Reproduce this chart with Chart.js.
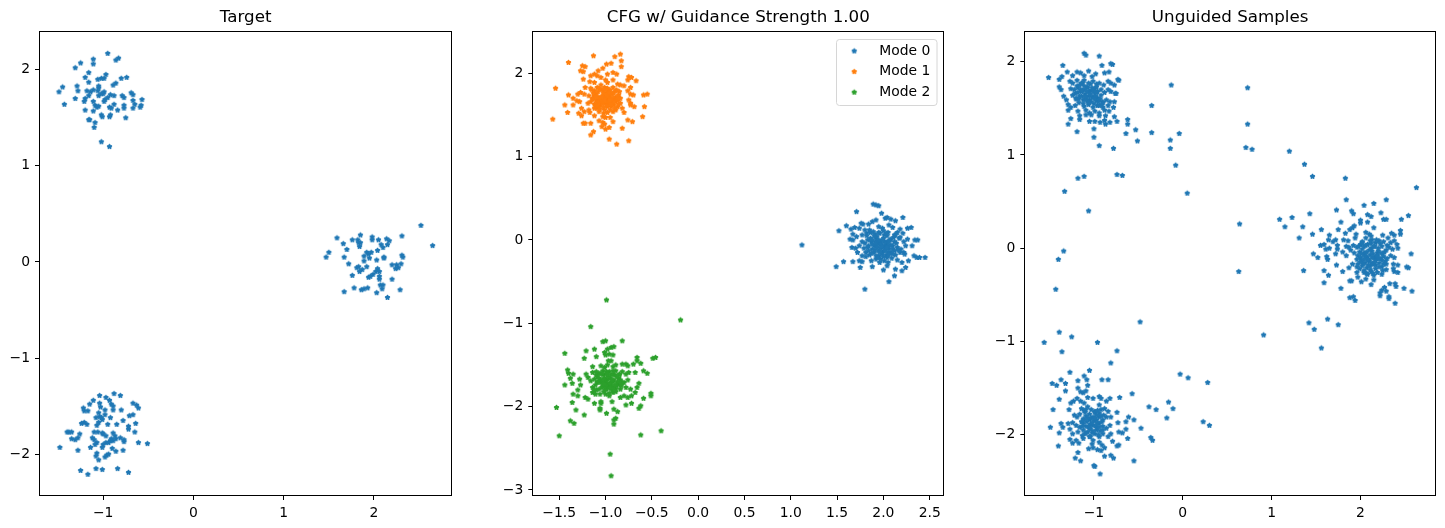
<!DOCTYPE html>
<html><head><meta charset="utf-8">
<script src="https://cdn.jsdelivr.net/npm/chart.js@4/dist/chart.umd.min.js"></script>
<style>
html,body{margin:0;padding:0;background:#fff;width:1445px;height:528px;overflow:hidden}
.p{position:absolute;top:0;height:528px}
</style></head><body>
<div class="p" style="left:0;width:480px"><canvas id="c1"></canvas></div>
<div class="p" style="left:480px;width:480px"><canvas id="c2"></canvas></div>
<div class="p" style="left:960px;width:485px"><canvas id="c3"></canvas></div>
<script>
// ---------------- DATA ----------------
const titles = ['Target', 'CFG w/ Guidance Strength 1.00', 'Unguided Samples'];
const legendLabels = ['Mode 0', 'Mode 1', 'Mode 2'];

// axis ranges & ticks
const target_xRange = [-1.70, 2.857], target_yRange = [-2.425, 2.392];
const cfg_xRange = [-1.78, 2.647], cfg_yRange = [-3.06, 2.495];
const ung_xRange = [-1.772, 2.839], ung_yRange = [-2.646, 2.318];
const target_xTicks = [-1, 0, 1, 2], target_yTicks = [-2, -1, 0, 1, 2];
const cfg_xTicks = [-1.5, -1.0, -0.5, 0.0, 0.5, 1.0, 1.5, 2.0, 2.5], cfg_yTicks = [-3, -2, -1, 0, 1, 2];
const ung_xTicks = [-1, 0, 1, 2], ung_yTicks = [-2, -1, 0, 1, 2];

// Panel 1: Target
const targetTopLeft = [[-0.95,2.17],[-0.83,2.12],[-0.86,2.10],[-1.11,2.11],[-1.11,2.06],[-1.25,2.07],[-1.31,2.02],[-1.16,1.97],[-0.97,1.95],[-1.20,1.92],[-1.06,1.90],[-1.02,1.91],[-0.99,1.91],[-0.74,1.92],[-0.80,1.91],[-1.16,1.87],[-0.86,1.86],[-0.89,1.84],[-1.29,1.83],[-1.45,1.82],[-1.05,1.83],[-1.05,1.81],[-1.49,1.77],[-1.28,1.78],[-1.18,1.78],[-1.14,1.77],[-1.11,1.79],[-0.99,1.77],[-1.00,1.75],[-1.05,1.73],[-1.06,1.78],[-0.92,1.74],[-0.88,1.73],[-0.79,1.73],[-0.77,1.71],[-0.69,1.76],[-0.67,1.74],[-0.67,1.68],[-0.57,1.69],[-1.20,1.70],[-1.16,1.73],[-1.31,1.70],[-1.02,1.75],[-1.21,1.67],[-1.11,1.67],[-0.99,1.67],[-0.98,1.69],[-0.95,1.71],[-1.43,1.64],[-1.09,1.63],[-1.07,1.61],[-1.05,1.62],[-0.93,1.61],[-0.91,1.60],[-0.88,1.64],[-0.77,1.63],[-0.77,1.60],[-0.84,1.58],[-0.65,1.64],[-0.67,1.60],[-0.59,1.61],[-0.58,1.63],[-1.20,1.58],[-1.11,1.57],[-1.02,1.53],[-1.01,1.51],[-0.92,1.53],[-0.93,1.51],[-0.75,1.50],[-1.16,1.48],[-1.15,1.48],[-1.09,1.45],[-1.10,1.40],[-1.02,1.25],[-0.93,1.20]];
const targetBottomLeft = [[-0.88,-1.37],[-0.81,-1.39],[-1.04,-1.39],[-0.97,-1.41],[-1.11,-1.44],[-0.93,-1.44],[-0.91,-1.48],[-1.15,-1.48],[-1.04,-1.47],[-1.03,-1.51],[-0.89,-1.50],[-0.67,-1.47],[-0.63,-1.49],[-0.61,-1.52],[-1.22,-1.52],[-1.21,-1.55],[-1.17,-1.55],[-0.98,-1.54],[-0.80,-1.54],[-0.89,-1.54],[-1.05,-1.57],[-1.04,-1.61],[-0.98,-1.59],[-0.67,-1.59],[-0.71,-1.60],[-1.08,-1.62],[-1.02,-1.62],[-1.01,-1.64],[-0.92,-1.62],[-0.78,-1.65],[-1.21,-1.67],[-1.18,-1.69],[-1.24,-1.68],[-0.64,-1.68],[-1.05,-1.67],[-1.07,-1.70],[-0.95,-1.69],[-0.85,-1.69],[-0.72,-1.71],[-0.72,-1.74],[-1.40,-1.77],[-1.38,-1.77],[-1.35,-1.77],[-1.10,-1.77],[-1.06,-1.77],[-1.01,-1.78],[-0.65,-1.77],[-1.26,-1.79],[-1.28,-1.83],[-1.35,-1.84],[-1.31,-1.85],[-1.12,-1.83],[-1.10,-1.85],[-1.00,-1.79],[-0.97,-1.81],[-0.89,-1.78],[-0.87,-1.81],[-0.86,-1.84],[-0.92,-1.86],[-0.94,-1.88],[-0.81,-1.83],[-0.77,-1.85],[-0.77,-1.87],[-1.07,-1.88],[-1.09,-1.90],[-0.97,-1.88],[-1.00,-1.90],[-0.89,-1.86],[-0.91,-1.84],[-0.61,-1.88],[-0.51,-1.89],[-1.48,-1.93],[-1.14,-1.93],[-1.01,-1.93],[-0.90,-1.94],[-1.28,-1.96],[-0.86,-1.97],[-0.78,-1.96],[-1.07,-1.99],[-1.08,-2.02],[-0.94,-2.00],[-0.96,-2.01],[-0.98,-2.03],[-1.05,-2.06],[-1.08,-2.15],[-1.01,-2.16],[-1.25,-2.17],[-0.84,-2.15],[-0.72,-2.19],[-1.17,-2.21]];
const targetRight = [[2.52,0.38],[2.65,0.17],[1.59,0.25],[1.66,0.19],[1.70,0.13],[1.50,0.10],[1.47,0.05],[1.67,0.05],[1.76,0.23],[1.82,0.23],[1.85,0.28],[1.83,0.20],[1.98,0.26],[1.98,0.23],[2.05,0.23],[2.14,0.24],[2.17,0.22],[2.31,0.27],[1.85,0.20],[1.84,0.16],[2.08,0.18],[2.10,0.15],[2.15,0.18],[2.04,0.12],[1.92,0.10],[1.94,0.08],[1.97,0.10],[1.89,0.06],[1.95,0.04],[2.11,0.05],[2.11,0.04],[2.31,0.07],[2.32,0.05],[1.89,0.01],[1.72,-0.02],[2.03,0.02],[2.20,-0.03],[2.25,-0.03],[2.24,-0.07],[2.27,-0.06],[2.30,-0.02],[1.81,-0.06],[1.83,-0.05],[1.92,-0.05],[2.04,-0.07],[1.87,-0.08],[1.84,-0.10],[2.02,-0.10],[2.06,-0.10],[1.99,-0.13],[1.76,-0.14],[1.94,-0.16],[1.96,-0.15],[2.06,-0.15],[2.06,-0.18],[2.20,-0.18],[2.07,-0.24],[2.10,-0.24],[2.09,-0.28],[1.78,-0.27],[1.86,-0.29],[1.89,-0.28],[1.93,-0.27],[1.67,-0.31],[2.03,-0.32],[2.29,-0.29],[2.15,-0.37]];

// Panel 2: CFG modes (outer points + dense cores)
const cfgMode0 = [[1.12,-0.06],[1.89,0.43],[1.92,0.42],[1.95,0.41],[1.71,0.34],[1.98,0.32],[2.21,0.27],[1.52,0.11],[1.60,0.17],[1.65,0.13],[1.69,0.15],[1.76,0.20],[1.78,0.19],[1.84,0.19],[1.88,0.22],[1.92,0.24],[2.02,0.26],[2.04,0.27],[2.08,0.25],[2.13,0.23],[1.74,0.14],[1.80,0.12],[1.95,0.16],[1.99,0.14],[2.06,0.18],[2.10,0.15],[2.18,0.13],[2.26,0.14],[2.30,0.15],[1.67,0.07],[1.71,0.04],[1.64,0.01],[1.67,0.00],[1.77,0.06],[1.82,0.08],[1.86,0.09],[1.91,0.07],[1.95,0.09],[2.01,0.06],[2.05,0.09],[2.12,0.06],[2.15,0.09],[2.21,0.08],[1.77,-0.02],[1.83,0.00],[1.87,-0.02],[1.92,0.02],[1.96,-0.02],[2.00,0.02],[2.04,-0.02],[2.08,0.01],[2.12,-0.02],[2.17,0.02],[2.22,-0.02],[2.26,0.01],[2.34,0.00],[2.37,0.00],[1.66,-0.09],[1.70,-0.10],[1.74,-0.07],[1.79,-0.10],[1.84,-0.07],[1.88,-0.11],[1.92,-0.07],[1.97,-0.10],[2.02,-0.07],[2.06,-0.11],[2.10,-0.07],[2.15,-0.09],[2.19,-0.11],[2.24,-0.07],[2.31,-0.07],[1.72,-0.15],[1.77,-0.19],[1.81,-0.15],[1.85,-0.18],[1.90,-0.15],[1.95,-0.19],[1.99,-0.15],[2.03,-0.18],[2.08,-0.15],[2.13,-0.18],[2.18,-0.15],[2.22,-0.15],[2.23,-0.17],[2.33,-0.19],[2.36,-0.21],[2.39,-0.21],[2.45,-0.21],[1.57,-0.26],[1.67,-0.26],[1.74,-0.25],[1.77,-0.26],[1.87,-0.25],[1.92,-0.23],[1.96,-0.27],[2.01,-0.25],[2.05,-0.27],[2.15,-0.24],[2.20,-0.27],[2.27,-0.25],[1.49,-0.32],[1.75,-0.33],[1.88,-0.32],[2.00,-0.36],[2.04,-0.31],[2.13,-0.35],[2.20,-0.37],[2.24,-0.33],[2.12,-0.43],[2.06,-0.50],[1.80,-0.59],[1.92,-0.02],[1.95,-0.05],[1.99,-0.07],[2.03,-0.05],[2.06,-0.07],[2.01,-0.13],[1.95,-0.13],[1.90,-0.07],[2.10,-0.11],[2.04,-0.21],[1.97,-0.23],[1.92,-0.19]];
const cfgMode0Core = [[1.80,-0.04],[1.82,0.05],[1.84,-0.13],[1.86,0.02],[1.88,-0.05],[1.89,0.10],[1.91,-0.12],[1.93,0.04],[1.94,-0.21],[1.96,0.08],[1.97,-0.04],[1.98,-0.17],[2.00,0.11],[2.01,-0.02],[2.02,-0.10],[2.04,0.05],[2.05,-0.15],[2.07,0.00],[2.08,-0.06],[2.09,-0.22],[2.11,0.03],[2.12,-0.13],[2.14,-0.04],[1.83,-0.09],[1.87,-0.16],[1.90,0.05],[1.93,-0.09],[1.96,-0.14],[1.99,0.00],[2.03,0.08],[2.06,-0.02],[2.10,-0.17],[2.13,0.06],[1.85,0.12],[1.92,-0.03],[1.98,-0.08],[2.02,-0.12],[2.06,-0.18],[1.95,0.00],[2.00,-0.20],[1.88,0.00],[2.04,-0.09],[2.16,-0.12],[1.81,-0.20],[2.18,0.03]];
const cfgMode1 = [[-0.84,2.23],[-0.90,2.20],[-1.13,2.21],[-1.40,2.13],[-1.25,2.09],[-1.22,2.08],[-0.94,2.12],[-0.99,2.11],[-0.83,2.15],[-0.83,2.08],[-1.03,2.06],[-1.27,2.03],[-1.24,2.02],[-1.08,2.03],[-0.92,2.01],[-1.12,1.99],[-1.16,1.97],[-0.98,1.99],[-0.88,1.99],[-1.24,1.93],[-1.09,1.97],[-1.05,1.95],[-0.75,1.96],[-0.72,1.95],[-0.76,1.92],[-0.67,1.91],[-1.17,1.90],[-1.12,1.89],[-1.00,1.92],[-0.98,1.89],[-0.92,1.92],[-0.87,1.87],[-0.84,1.86],[-0.80,1.85],[-1.22,1.83],[-1.16,1.82],[-1.12,1.79],[-1.09,1.83],[-1.05,1.81],[-1.01,1.83],[-0.96,1.79],[-0.92,1.83],[-0.89,1.79],[-0.76,1.79],[-0.73,1.83],[-1.27,1.77],[-1.30,1.75],[-1.54,1.82],[-1.40,1.74],[-1.35,1.70],[-1.23,1.75],[-1.18,1.73],[-1.14,1.70],[-1.10,1.75],[-1.07,1.71],[-1.03,1.70],[-1.00,1.73],[-0.96,1.68],[-0.94,1.75],[-0.91,1.70],[-0.86,1.74],[-0.84,1.70],[-0.73,1.75],[-0.70,1.74],[-0.75,1.68],[-0.59,1.74],[-0.55,1.75],[-1.28,1.66],[-1.31,1.67],[-1.19,1.64],[-1.16,1.66],[-1.12,1.63],[-1.09,1.66],[-1.05,1.62],[-1.01,1.64],[-0.98,1.60],[-0.94,1.66],[-0.91,1.62],[-0.87,1.60],[-0.84,1.64],[-0.73,1.64],[-0.73,1.62],[-0.69,1.60],[-1.44,1.62],[-1.35,1.62],[-0.58,1.60],[-1.41,1.53],[-1.26,1.58],[-1.23,1.54],[-1.18,1.56],[-1.17,1.53],[-1.09,1.58],[-1.07,1.54],[-1.02,1.52],[-0.98,1.53],[-0.92,1.54],[-0.89,1.56],[-0.82,1.58],[-0.80,1.53],[-1.29,1.52],[-1.26,1.49],[-1.12,1.49],[-1.03,1.48],[-1.00,1.47],[-1.57,1.45],[-0.60,1.48],[-1.24,1.40],[-1.22,1.40],[-1.16,1.40],[-1.07,1.43],[-1.03,1.41],[-1.01,1.39],[-0.95,1.47],[-0.92,1.42],[-0.76,1.44],[-0.71,1.42],[-1.04,1.36],[-1.00,1.33],[-0.96,1.35],[-0.82,1.34],[-1.13,1.30],[-1.16,1.26],[-0.96,1.21],[-0.88,1.15],[-0.75,1.19],[-1.07,1.66],[-1.03,1.73],[-1.00,1.66],[-0.98,1.70],[-0.94,1.60],[-1.07,1.60],[-1.03,1.79],[-0.98,1.77],[-1.01,1.56],[-1.10,1.68],[-0.96,1.64],[-0.92,1.68],[-0.89,1.66],[-1.12,1.73],[-0.87,1.68]];
const cfgMode1Core = [[-1.13,1.76],[-1.11,1.62],[-1.08,1.78],[-1.06,1.69],[-1.04,1.64],[-1.02,1.76],[-1.00,1.69],[-0.99,1.62],[-0.97,1.73],[-0.95,1.80],[-0.93,1.65],[-0.91,1.77],[-0.89,1.71],[-0.86,1.63],[-0.85,1.78],[-1.14,1.69],[-1.10,1.72],[-1.05,1.86],[-1.01,1.70],[-0.98,1.82],[-0.96,1.71],[-0.94,1.63],[-0.90,1.58],[-0.87,1.72],[-1.12,1.58],[-1.08,1.65],[-1.03,1.67],[-0.99,1.74],[-0.95,1.56],[-0.92,1.75],[-1.07,1.82],[-1.02,1.59],[-0.97,1.66],[-0.93,1.70],[-0.88,1.80],[-1.15,1.80],[-1.09,1.61],[-1.04,1.72],[-1.00,1.80],[-0.96,1.76],[-0.91,1.66],[-0.86,1.69],[-1.06,1.57],[-1.01,1.67],[-0.95,1.68]];
const cfgMode2 = [[-0.99,-0.72],[-0.19,-0.96],[-1.16,-1.04],[-0.82,-1.21],[-1.03,-1.22],[-1.00,-1.21],[-1.44,-1.36],[-1.21,-1.33],[-1.12,-1.31],[-0.98,-1.31],[-0.94,-1.29],[-0.91,-1.28],[-1.01,-1.35],[-1.00,-1.38],[-0.96,-1.37],[-0.92,-1.38],[-1.23,-1.42],[-1.10,-1.40],[-0.97,-1.45],[-0.94,-1.45],[-0.66,-1.41],[-0.49,-1.42],[-0.46,-1.41],[-0.62,-1.48],[-0.66,-1.45],[-1.14,-1.52],[-1.05,-1.51],[-1.01,-1.53],[-0.98,-1.50],[-0.92,-1.52],[-0.89,-1.50],[-0.82,-1.49],[-0.78,-1.49],[-0.76,-1.51],[-0.70,-1.49],[-0.59,-1.57],[-0.55,-1.60],[-1.41,-1.56],[-1.40,-1.60],[-1.35,-1.61],[-1.21,-1.61],[-1.14,-1.59],[-1.10,-1.62],[-1.07,-1.60],[-1.03,-1.57],[-1.00,-1.61],[-0.96,-1.58],[-0.92,-1.61],[-0.89,-1.57],[-0.85,-1.61],[-0.82,-1.58],[-0.78,-1.61],[-0.75,-1.59],[-0.68,-1.59],[-1.38,-1.66],[-1.28,-1.67],[-1.19,-1.65],[-1.16,-1.69],[-1.12,-1.67],[-1.09,-1.71],[-1.05,-1.68],[-1.01,-1.72],[-0.98,-1.67],[-0.94,-1.71],[-0.91,-1.68],[-0.87,-1.72],[-0.84,-1.68],[-0.80,-1.71],[-0.76,-1.68],[-1.36,-1.72],[-1.27,-1.74],[-1.44,-1.74],[-0.64,-1.72],[-1.14,-1.77],[-1.10,-1.80],[-1.03,-1.75],[-1.00,-1.79],[-0.94,-1.75],[-0.89,-1.79],[-0.84,-1.74],[-0.78,-1.77],[-0.73,-1.79],[-1.30,-1.80],[-0.66,-1.77],[-1.35,-1.85],[-1.30,-1.87],[-1.14,-1.83],[-1.11,-1.85],[-1.00,-1.85],[-0.96,-1.87],[-0.92,-1.83],[-0.84,-1.89],[-0.80,-1.87],[-0.76,-1.89],[-0.72,-1.87],[-0.68,-1.83],[-0.51,-1.84],[-0.51,-1.87],[-1.22,-1.89],[-1.19,-1.91],[-0.59,-1.90],[-1.36,-1.95],[-1.12,-1.96],[-1.05,-1.94],[-1.05,-1.96],[-0.93,-1.94],[-0.78,-1.98],[-0.72,-1.96],[-0.62,-1.99],[-0.64,-2.02],[-1.53,-2.01],[-1.32,-2.04],[-1.23,-2.10],[-1.06,-2.04],[-1.06,-2.02],[-0.99,-2.08],[-0.91,-2.03],[-0.87,-2.06],[-0.89,-2.14],[-0.91,-2.16],[-1.38,-2.17],[-1.34,-2.20],[-0.91,-2.21],[-1.50,-2.35],[-0.62,-2.34],[-0.40,-2.29],[-0.95,-2.57],[-0.94,-2.83]];
const cfgMode2Core = [[-1.11,-1.74],[-1.09,-1.64],[-1.07,-1.79],[-1.05,-1.71],[-1.03,-1.62],[-1.02,-1.82],[-1.00,-1.69],[-0.99,-1.58],[-0.97,-1.76],[-0.95,-1.66],[-0.93,-1.80],[-0.92,-1.70],[-0.90,-1.62],[-0.88,-1.75],[-0.86,-1.66],[-0.84,-1.79],[-0.82,-1.71],[-1.08,-1.70],[-1.04,-1.77],[-1.01,-1.66],[-0.98,-1.72],[-0.96,-1.84],[-0.94,-1.62],[-0.91,-1.77],[-0.87,-1.70],[-1.10,-1.58],[-1.06,-1.85],[-1.03,-1.68],[-0.99,-1.79],[-0.95,-1.73],[-0.92,-1.57],[-0.89,-1.82],[-0.85,-1.62],[-1.12,-1.80],[-1.00,-1.75],[-0.97,-1.64],[-0.93,-1.68],[-0.90,-1.74],[-1.05,-1.60],[-0.83,-1.75],[-1.07,-1.66],[-0.95,-1.78],[-1.02,-1.73],[-0.88,-1.64],[-0.98,-1.61]];

// Panel 3: Unguided samples
const ungTopLeft = [[-1.11,2.09],[-1.09,2.07],[-0.94,2.06],[-0.81,1.98],[-0.79,1.97],[-0.91,1.96],[-1.35,1.96],[-1.30,1.89],[-1.51,1.83],[-1.39,1.81],[-1.36,1.84],[-1.24,1.85],[-1.19,1.89],[-1.15,1.88],[-1.11,1.85],[-1.06,1.90],[-1.02,1.84],[-0.98,1.87],[-0.88,1.88],[-0.83,1.89],[-0.73,1.81],[-0.72,1.80],[-1.27,1.79],[-1.24,1.77],[-1.19,1.80],[-1.14,1.77],[-1.11,1.80],[-1.06,1.77],[-1.01,1.79],[-0.97,1.76],[-0.94,1.77],[-0.89,1.75],[-0.84,1.79],[-0.81,1.77],[-0.77,1.75],[-1.39,1.73],[-1.37,1.70],[-1.26,1.71],[-1.22,1.70],[-1.18,1.72],[-1.14,1.68],[-1.11,1.70],[-1.07,1.72],[-1.03,1.69],[-0.99,1.71],[-0.96,1.68],[-0.92,1.70],[-0.88,1.67],[-0.84,1.70],[-0.81,1.68],[-0.76,1.66],[-1.34,1.63],[-1.31,1.59],[-1.24,1.64],[-1.20,1.60],[-1.16,1.63],[-1.12,1.59],[-1.09,1.62],[-1.05,1.59],[-1.01,1.62],[-0.97,1.58],[-0.94,1.60],[-0.90,1.57],[-0.86,1.59],[-0.82,1.57],[-0.77,1.57],[-0.75,1.66],[-1.29,1.54],[-1.26,1.51],[-1.21,1.53],[-1.17,1.56],[-1.11,1.52],[-1.06,1.54],[-1.01,1.51],[-0.96,1.53],[-0.90,1.51],[-0.84,1.53],[-0.78,1.51],[-1.29,1.48],[-1.18,1.47],[-1.09,1.48],[-1.05,1.45],[-0.99,1.47],[-0.94,1.45],[-0.88,1.48],[-0.83,1.47],[-1.16,1.42],[-1.09,1.43],[-1.03,1.43],[-0.94,1.42],[-0.87,1.42],[-0.77,1.41],[-1.26,1.39],[-1.16,1.38],[-1.05,1.36],[-0.99,1.36],[-0.93,1.35],[-0.88,1.37],[-0.82,1.35],[-0.74,1.36],[-0.62,1.38],[-0.62,1.33],[-1.29,1.33],[-0.87,1.33],[-1.00,1.28],[-1.19,1.25],[-0.64,1.23],[-0.53,1.27],[-1.00,1.19],[-0.51,1.15],[-0.94,1.10],[-0.78,1.07]];
const ungTopLeftCore = [[-1.21,1.66],[-1.19,1.74],[-1.17,1.60],[-1.15,1.70],[-1.13,1.77],[-1.12,1.55],[-1.10,1.65],[-1.08,1.73],[-1.07,1.58],[-1.05,1.68],[-1.04,1.76],[-1.02,1.62],[-1.00,1.55],[-0.99,1.66],[-0.97,1.73],[-0.96,1.61],[-0.94,1.53],[-0.92,1.64],[-0.90,1.56],[-1.18,1.67],[-1.14,1.63],[-1.09,1.59],[-1.06,1.63],[-1.03,1.57],[-1.01,1.69],[-0.98,1.63],[-0.95,1.57],[-1.16,1.75],[-1.11,1.74],[-1.08,1.68],[-1.04,1.65],[-0.99,1.60],[-0.93,1.60],[-1.20,1.61],[-1.13,1.69],[-1.06,1.56],[-1.02,1.72],[-0.97,1.67],[-0.91,1.54],[-1.10,1.62]];
const ungRight = [[2.15,0.48],[2.04,0.46],[1.73,0.41],[1.90,0.40],[1.92,0.37],[2.23,0.38],[2.08,0.36],[2.12,0.34],[2.26,0.31],[2.29,0.31],[2.46,0.31],[2.54,0.35],[2.00,0.30],[2.00,0.27],[1.78,0.28],[2.08,0.28],[1.56,0.20],[1.46,0.15],[1.65,0.14],[1.75,0.20],[1.88,0.20],[1.91,0.22],[1.93,0.24],[2.15,0.22],[1.83,0.16],[1.95,0.15],[2.06,0.17],[2.10,0.15],[2.12,0.13],[2.25,0.14],[2.35,0.16],[2.38,0.14],[2.45,0.19],[2.45,0.15],[1.72,0.09],[1.69,0.07],[1.64,0.09],[1.81,0.09],[1.86,0.08],[1.94,0.11],[2.02,0.07],[2.06,0.11],[2.13,0.09],[2.17,0.06],[2.21,0.08],[2.26,0.07],[2.31,0.11],[2.34,0.06],[2.38,0.08],[2.41,0.04],[1.55,0.03],[1.59,0.04],[1.61,-0.01],[1.65,0.00],[1.74,0.03],[1.74,-0.01],[1.84,0.02],[1.87,0.01],[1.92,0.03],[1.96,0.01],[2.00,0.04],[2.04,0.02],[2.08,0.04],[2.12,0.00],[2.15,0.02],[2.20,0.00],[2.24,0.02],[2.29,-0.02],[2.32,0.01],[2.36,-0.01],[2.42,0.00],[1.47,-0.06],[1.52,-0.10],[1.62,-0.09],[1.63,-0.12],[1.72,-0.06],[1.80,-0.04],[1.84,-0.08],[1.89,-0.02],[1.93,-0.05],[1.97,-0.08],[2.00,-0.10],[2.04,-0.06],[2.07,-0.09],[2.11,-0.07],[2.15,-0.10],[2.18,-0.08],[2.22,-0.11],[2.26,-0.09],[2.30,-0.11],[2.34,-0.08],[2.38,-0.10],[2.57,-0.06],[1.73,-0.18],[1.87,-0.21],[1.91,-0.17],[1.96,-0.20],[2.01,-0.13],[2.05,-0.16],[2.10,-0.14],[2.14,-0.17],[2.17,-0.18],[2.21,-0.16],[2.24,-0.20],[2.29,-0.17],[2.37,-0.17],[2.42,-0.18],[2.52,-0.20],[2.54,-0.21],[1.59,-0.24],[1.64,-0.29],[1.80,-0.25],[1.96,-0.26],[2.04,-0.24],[2.08,-0.28],[2.12,-0.25],[2.15,-0.29],[2.19,-0.26],[2.24,-0.28],[2.29,-0.23],[2.37,-0.22],[2.38,-0.25],[2.42,-0.26],[1.97,-0.31],[2.06,-0.33],[2.15,-0.34],[1.88,-0.35],[1.90,-0.35],[2.01,-0.36],[1.59,-0.37],[2.33,-0.38],[2.39,-0.38],[2.40,-0.41],[2.12,-0.39],[2.27,-0.42],[2.29,-0.46],[2.24,-0.45],[2.49,-0.43],[2.22,-0.48],[2.22,-0.51],[1.78,-0.43],[2.58,-0.46],[1.88,-0.53],[1.92,-0.52],[1.94,-0.56],[2.32,-0.52],[2.32,-0.54],[2.39,-0.59],[2.05,-0.05],[2.09,-0.12],[2.13,-0.03],[2.17,-0.13],[1.99,-0.04],[2.02,-0.19],[2.19,-0.05],[2.25,-0.06],[2.07,-0.21],[2.11,-0.19]];
const ungRightCore = [[1.96,-0.12],[1.98,0.02],[1.99,-0.22],[2.01,-0.06],[2.02,0.06],[2.03,-0.16],[2.05,-0.09],[2.06,0.03],[2.07,-0.27],[2.08,-0.13],[2.10,-0.02],[2.11,-0.23],[2.12,0.05],[2.13,-0.16],[2.14,-0.06],[2.16,0.02],[2.17,-0.22],[2.18,-0.11],[2.20,-0.03],[2.21,-0.20],[2.22,0.05],[2.24,-0.13],[2.25,-0.24],[2.27,-0.04],[2.28,-0.14],[2.30,0.03],[1.97,-0.17],[2.00,-0.15],[2.04,-0.12],[2.07,-0.04],[2.09,-0.18],[2.13,-0.10],[2.16,-0.15],[2.19,-0.08],[2.23,-0.05],[2.26,-0.17],[2.04,-0.26],[2.11,0.08],[2.18,0.09],[2.14,-0.27],[2.02,-0.01],[2.21,-0.11]];
const ungBottomLeft = [[-1.47,-1.45],[-1.42,-1.47],[-1.37,-1.41],[-1.32,-1.45],[-1.32,-1.53],[-1.18,-1.42],[-1.11,-1.37],[-1.08,-1.41],[-1.07,-1.47],[-0.91,-1.41],[-0.84,-1.41],[-1.18,-1.50],[-1.15,-1.54],[-1.12,-1.55],[-1.09,-1.53],[-1.39,-1.62],[-1.26,-1.66],[-1.23,-1.64],[-1.19,-1.61],[-1.15,-1.64],[-1.11,-1.66],[-1.07,-1.60],[-1.01,-1.61],[-0.94,-1.59],[-0.92,-1.61],[-0.86,-1.64],[-0.82,-1.61],[-0.71,-1.60],[-0.57,-1.56],[-1.46,-1.73],[-1.28,-1.73],[-1.14,-1.72],[-1.11,-1.74],[-1.07,-1.70],[-1.03,-1.73],[-0.99,-1.75],[-0.94,-1.68],[-0.92,-1.73],[-0.88,-1.72],[-0.84,-1.75],[-0.74,-1.76],[-0.81,-1.81],[-1.22,-1.79],[-1.19,-1.81],[-1.16,-1.78],[-1.12,-1.83],[-1.09,-1.80],[-1.05,-1.84],[-1.01,-1.81],[-0.97,-1.84],[-0.94,-1.81],[-0.90,-1.84],[-0.86,-1.81],[-0.61,-1.81],[-0.55,-1.84],[-0.73,-1.87],[-0.64,-1.86],[-1.37,-1.88],[-1.29,-1.88],[-1.24,-1.87],[-1.20,-1.90],[-1.16,-1.92],[-1.12,-1.88],[-1.09,-1.91],[-1.05,-1.93],[-1.01,-1.90],[-0.97,-1.92],[-0.94,-1.88],[-0.90,-1.91],[-0.86,-1.93],[-0.82,-1.90],[-1.49,-1.92],[-1.35,-1.92],[-1.27,-1.94],[-0.72,-1.97],[-0.68,-1.98],[-0.64,-1.94],[-1.39,-1.98],[-1.24,-1.99],[-1.18,-1.97],[-1.13,-2.01],[-1.09,-1.98],[-1.04,-2.02],[-0.99,-1.99],[-0.94,-2.02],[-0.90,-1.99],[-0.84,-2.02],[-0.81,-1.99],[-0.62,-2.04],[-1.27,-2.05],[-1.24,-2.09],[-1.20,-2.06],[-1.17,-2.09],[-1.12,-2.04],[-1.01,-2.06],[-1.02,-2.10],[-0.94,-2.08],[-0.91,-2.11],[-0.79,-2.07],[-1.40,-2.12],[-1.06,-2.15],[-1.01,-2.14],[-0.96,-2.16],[-0.92,-2.17],[-0.88,-2.14],[-0.74,-2.12],[-0.72,-2.11],[-1.18,-2.19],[-0.88,-2.23],[-0.81,-2.22],[-0.78,-2.25],[-1.21,-2.25],[-1.15,-2.28],[-1.00,-2.33],[-0.99,-2.34],[-0.93,-2.42]];
const ungBottomLeftCore = [[-1.14,-1.86],[-1.12,-1.95],[-1.10,-1.76],[-1.08,-1.86],[-1.07,-1.97],[-1.05,-1.78],[-1.04,-1.89],[-1.02,-1.98],[-1.00,-1.85],[-0.99,-1.76],[-0.97,-1.95],[-0.96,-1.87],[-0.94,-1.77],[-0.93,-1.96],[-0.91,-1.86],[-0.89,-1.79],[-1.11,-1.84],[-1.06,-1.91],[-1.03,-1.82],[-0.98,-1.90],[-0.95,-2.00],[-0.92,-1.80],[-1.09,-1.73],[-1.01,-1.96],[-0.97,-1.79],[-1.13,-1.91],[-1.05,-2.02],[-0.99,-1.82],[-0.90,-1.95],[-1.07,-1.82],[-1.02,-1.87],[-0.94,-1.92],[-1.10,-1.99],[-0.96,-1.74],[-1.04,-1.94]];
const ungStray = [[-0.13,1.75],[0.73,1.72],[-0.35,1.53],[0.73,1.33],[-0.35,1.24],[-0.04,1.23],[-0.14,1.16],[-0.14,1.07],[0.71,1.08],[0.78,1.06],[1.20,1.04],[-0.08,0.89],[1.37,0.90],[1.46,0.77],[1.83,0.75],[-0.74,0.79],[-0.68,0.78],[-1.18,0.75],[-1.11,0.77],[0.05,0.59],[-1.33,0.61],[-1.06,0.40],[1.84,0.52],[2.29,0.52],[2.63,0.65],[0.64,0.26],[1.09,0.31],[1.15,0.23],[1.23,0.33],[1.31,0.11],[1.35,0.23],[1.43,0.37],[-1.34,-0.03],[-1.40,-0.12],[0.63,-0.25],[1.36,-0.24],[-1.43,-0.44],[-0.48,-0.79],[1.42,-0.80],[1.48,-0.87],[1.63,-0.76],[1.75,-0.82],[0.91,-0.93],[1.56,-1.07],[-1.56,-1.01],[-1.39,-0.90],[-1.25,-0.95],[-1.36,-1.11],[-0.96,-1.01],[-0.74,-1.10],[-0.81,-1.23],[-1.05,-1.31],[-1.27,-1.33],[-0.03,-1.35],[0.06,-1.39],[0.28,-1.44],[-0.16,-1.65],[-0.11,-1.72],[-0.38,-1.70],[-0.30,-1.73],[-0.18,-1.82],[0.23,-1.86],[0.30,-1.90],[-0.47,-1.93],[-0.36,-2.03],[-0.34,-2.06],[-0.55,-2.28]];

// ---------------- RENDER ----------------
const BLUE = '#1f77b4', ORANGE = '#ff7f0e', GREEN = '#2ca02c';
Chart.defaults.font.family = 'DejaVu Sans';
Chart.defaults.color = '#000';
Chart.defaults.animation = false;

function starImage(color) {
  const s = 9, c = document.createElement('canvas');
  c.width = s; c.height = s;
  const g = c.getContext('2d');
  const R = 1.9, r = R * 0.382;
  g.beginPath();
  for (let i = 0; i < 10; i++) {
    const a = -Math.PI / 2 + i * Math.PI / 5, rr = i % 2 ? r : R;
    g.lineTo(s / 2 + rr * Math.cos(a), s / 2 + rr * Math.sin(a));
  }
  g.closePath();
  g.fillStyle = color; g.fill();
  g.lineWidth = 1.8; g.lineJoin = 'round'; g.strokeStyle = color; g.stroke();
  return c;
}
const toXY = arr => arr.map(p => ({x: p[0], y: p[1]}));
const fmt = (v, d) => (v < -1e-9 ? '\u2212' : '') + Math.abs(v).toFixed(d);

function ds(label, pts, color) {
  const img = starImage(color);
  return {label, data: toXY(pts), pointStyle: img, pointRadius: 3, pointHoverRadius: 3,
          backgroundColor: color, borderColor: color, borderWidth: 0};
}

const framePlugin = {
  id: 'frame',
  beforeDraw(chart) {
    if (!chart.$legendFrame) return;
    const ca = chart.chartArea, ctx = chart.ctx;
    const x = ca.right - 107.5, y = ca.top + 7, w = 100.5, h = 66, r = 3;
    ctx.save();
    ctx.beginPath();
    ctx.roundRect(Math.round(x) + 0.5, Math.round(y) + 0.5, w, h, r);
    ctx.fillStyle = 'rgba(255,255,255,0.8)'; ctx.fill();
    ctx.strokeStyle = '#d6d6d6'; ctx.lineWidth = 1; ctx.stroke();
    ctx.restore();
  },
  afterLayout(chart) {
    const lg = chart.legend;
    if (!chart.$legendFrame || !lg) return;
    const ca = chart.chartArea, w = lg.width, h = lg.height;
    lg.left = ca.right - 113.8; lg.right = lg.left + w;
    lg.top = ca.top + 5.3; lg.bottom = lg.top + h;
  },
  afterDraw(chart) {
    const ca = chart.chartArea, ctx = chart.ctx;
    ctx.save();
    ctx.strokeStyle = '#000'; ctx.lineWidth = 1;
    const l = Math.round(ca.left) - 0.5, t = Math.round(ca.top) - 0.5;
    const r = Math.round(ca.right) + 0.5, b = Math.round(ca.bottom) + 0.5;
    ctx.strokeRect(l, t, r - l, b - t);
    ctx.restore();
  }
};

function axis(range, ticks, dec, isX, size) {
  return {
    type: 'linear', min: range[0], max: range[1],
    afterBuildTicks: s => { s.ticks = ticks.map(v => ({value: v})); },
    afterFit: s => { if (isX) s.height = size; else s.width = size; },
    ticks: {callback: v => fmt(v, dec), font: {size: 13.9}, color: '#000', padding: 5,
            autoSkip: false, maxRotation: 0, minRotation: 0},
    grid: {drawOnChartArea: false, drawTicks: true, tickLength: 5, color: '#000', lineWidth: 1},
    border: {display: false}
  };
}

function makeChart(id, title, datasets, xr, yr, xt, yt, xdec, ydec, yW, padR, withLegend) {
  return new Chart(document.getElementById(id), {
    type: 'scatter',
    data: {datasets},
    options: {
      responsive: true, maintainAspectRatio: false, animation: false,
      layout: {padding: {left: 0, right: padR, top: 0, bottom: 0}},
      events: [],
      plugins: {
        title: {display: true, text: title, fullSize: false,
                font: {size: 16.7, weight: 'normal'}, padding: {top: 8, bottom: 4}, color: '#000'},
        legend: withLegend ? {
          display: true, position: 'chartArea', align: 'start',
          labels: {usePointStyle: true, pointStyleWidth: 36, boxHeight: 4,
                   font: {size: 13.9}, color: '#000', padding: 6.7}
        } : {display: false},
        tooltip: {enabled: false}
      },
      scales: {
        x: axis(xr, xt, xdec, true, 33),
        y: axis(yr, yt, ydec, false, yW)
      }
    },
    plugins: [{id: 'flag', beforeInit(c) { c.$legendFrame = withLegend; }}, framePlugin]
  });
}

makeChart('c1', titles[0],
  [ds('Target', [...targetTopLeft, ...targetBottomLeft, ...targetRight], BLUE)],
  target_xRange, target_yRange, target_xTicks, target_yTicks, 0, 0, 40, 28.7, false);

makeChart('c2', titles[1],
  [ds(legendLabels[0], [...cfgMode0, ...cfgMode0Core], BLUE),
   ds(legendLabels[1], [...cfgMode1, ...cfgMode1Core], ORANGE),
   ds(legendLabels[2], [...cfgMode2, ...cfgMode2Core], GREEN)],
  cfg_xRange, cfg_yRange, cfg_xTicks, cfg_yTicks, 1, 0, 53.3, 16.7, true);

makeChart('c3', titles[2],
  [ds('Unguided', [...ungTopLeft, ...ungTopLeftCore, ...ungRight, ...ungRightCore, ...ungBottomLeft, ...ungBottomLeftCore, ...ungStray], BLUE)],
  ung_xRange, ung_yRange, ung_xTicks, ung_yTicks, 0, 0, 65.3, 10, false);
</script>
</body></html>
